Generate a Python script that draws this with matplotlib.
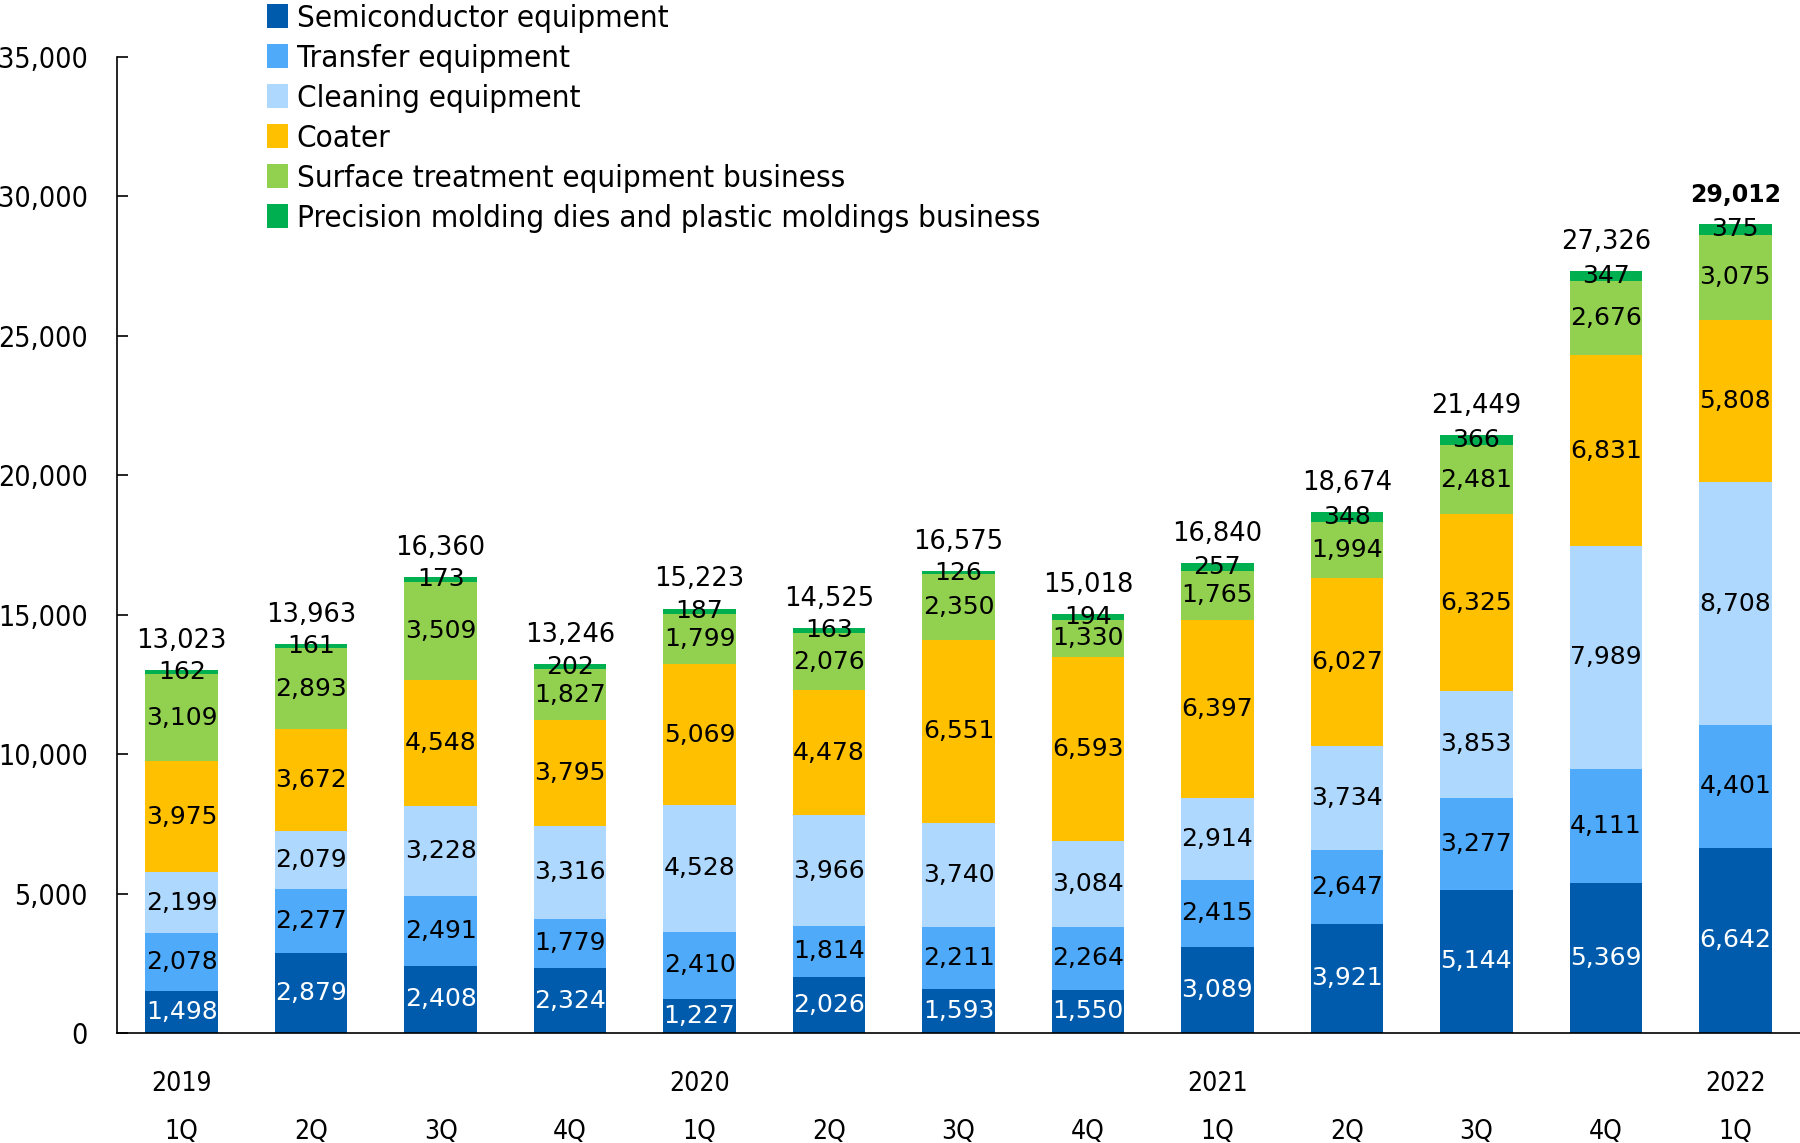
import matplotlib
matplotlib.use("Agg")
import matplotlib.pyplot as plt
from matplotlib.patches import Patch
import numpy as np

quarters = ["1Q", "2Q", "3Q", "4Q", "1Q", "2Q", "3Q", "4Q", "1Q", "2Q", "3Q", "4Q", "1Q"]
years = {0: "2019", 4: "2020", 8: "2021", 12: "2022"}

series_names = [
    "Semiconductor equipment",
    "Transfer equipment",
    "Cleaning equipment",
    "Coater",
    "Surface treatment equipment business",
    "Precision molding dies and plastic moldings business",
]
semiconductor = [1498, 2879, 2408, 2324, 1227, 2026, 1593, 1550, 3089, 3921, 5144, 5369, 6642]
transfer = [2078, 2277, 2491, 1779, 2410, 1814, 2211, 2264, 2415, 2647, 3277, 4111, 4401]
cleaning = [2199, 2079, 3228, 3316, 4528, 3966, 3740, 3084, 2914, 3734, 3853, 7989, 8708]
coater = [3975, 3672, 4548, 3795, 5069, 4478, 6551, 6593, 6397, 6027, 6325, 6831, 5808]
surface = [3109, 2893, 3509, 1827, 1799, 2076, 2350, 1330, 1765, 1994, 2481, 2676, 3075]
precision = [162, 161, 173, 202, 187, 163, 126, 194, 257, 348, 366, 347, 375]
totals = [13023, 13963, 16360, 13246, 15223, 14525, 16575, 15018, 16840, 18674, 21449, 27326, 29012]

colors = ["#005BAC", "#4FAAF9", "#AED8FE", "#FFC000", "#92D050", "#00B050"]
label_colors = ["white", "black", "black", "black", "black", "black"]

data = [semiconductor, transfer, cleaning, coater, surface, precision]

fig = plt.figure(figsize=(18, 11.43), dpi=100)
ax = fig.add_axes([117 / 1800, 1 - 1033 / 1143, 1 - 117 / 1800, (1033 - 57) / 1143])

x = np.arange(len(quarters))
bottom = np.zeros(len(quarters))
width = 0.56
label_font = dict(family="DejaVu Sans", fontsize=18)
for vals, col, lc in zip(data, colors, label_colors):
    vals = np.array(vals, dtype=float)
    ax.bar(x, vals, width, bottom=bottom, color=col, edgecolor="none", zorder=2)
    for xi, b, v in zip(x, bottom, vals):
        ax.text(xi, b + v / 2, f"{int(v):,}", ha="center", va="center", color=lc, zorder=3, **label_font)
    bottom += vals

for i, (xi, t) in enumerate(zip(x, totals)):
    last = i == len(totals) - 1
    ax.annotate(f"{t:,}", (xi, bottom[i]), xytext=(0, 21), textcoords="offset points",
                ha="center", va="center", fontsize=17 if last else 18.5, family="DejaVu Sans",
                fontweight="bold" if last else "normal")

ax.set_xlim(-0.5, 12.5)
ax.set_ylim(0, 35000)
ax.set_yticks(np.arange(0, 35001, 5000))
ax.set_yticklabels([f"{v:,}" for v in range(0, 35001, 5000)],
                   fontsize=20.5, fontstretch="condensed", family="DejaVu Sans")
ax.tick_params(axis="y", direction="in", length=8, width=1.2, pad=21)
ax.set_xticks([])
for s in ["top", "right"]:
    ax.spines[s].set_visible(False)
ax.spines["left"].set_linewidth(1.2)
ax.spines["bottom"].set_linewidth(1.2)

tr = ax.get_xaxis_transform()
for xi, q in zip(x, quarters):
    ax.text(xi, -99 / 976, q, transform=tr, ha="center", va="center", fontsize=19,
            fontstretch="condensed", family="DejaVu Sans")
for xi, y in years.items():
    ax.text(xi, -51 / 976, y, transform=tr, ha="center", va="center", fontsize=19,
            fontstretch="condensed", family="DejaVu Sans")

handles = [Patch(facecolor=c, edgecolor="none") for c in colors]
fig.legend(handles, series_names, loc="upper left", bbox_to_anchor=(239 / 1800, 1.021),
           frameon=False, handlelength=0.68, handleheight=0.8, handletextpad=0.27,
           labelspacing=0.35, prop=dict(family="DejaVu Sans", size=22.5, stretch="condensed"))

fig.savefig("out.png", dpi=100)
